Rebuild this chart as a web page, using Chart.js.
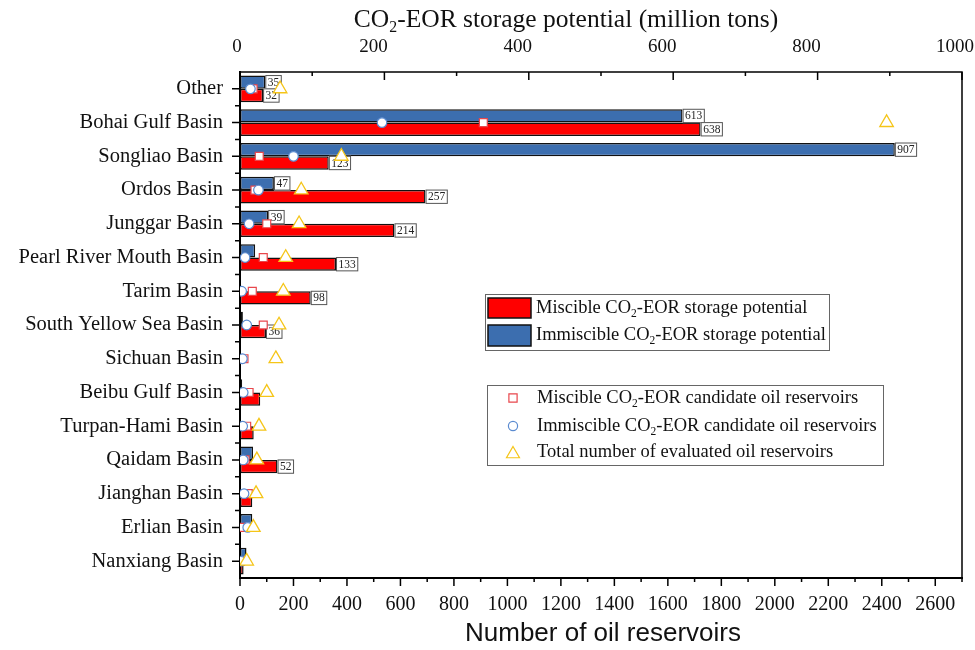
<!DOCTYPE html>
<html>
<head>
<meta charset="utf-8">
<script src="https://cdn.jsdelivr.net/npm/chart.js@4.4.1/dist/chart.umd.min.js"></script>
<style>
  html, body { margin: 0; padding: 0; background: #fff; }
  #wrap { width: 975px; height: 650px; position: relative; }
</style>
</head>
<body>
<div id="wrap"><canvas id="c"></canvas></div>
<script>
// ---- data ----
const categories = ['Other', 'Bohai Gulf Basin', 'Songliao Basin', 'Ordos Basin', 'Junggar Basin',
  'Pearl River Mouth Basin', 'Tarim Basin', 'South Yellow Sea Basin', 'Sichuan Basin', 'Beibu Gulf Basin',
  'Turpan-Hami Basin', 'Qaidam Basin', 'Jianghan Basin', 'Erlian Basin', 'Nanxiang Basin'];

// storage potential, million tons (top axis)
const miscibleStorage   = [32, 638, 123, 257, 214, 133, 98, 36, 1, 28, 19, 52, 17, 1, 5];
const immiscibleStorage = [35, 613, 907, 47, 39, 21, 1, 4, 1, 3, 1, 18, 1, 17, 9];
// value labels shown on bars (null = no label)
const miscibleLabels   = [32, 638, 123, 257, 214, 133, 98, 36, null, null, null, 52, null, null, null];
const immiscibleLabels = [35, 613, 907, 47, 39, null, null, null, null, null, null, null, null, null, null];

// number of oil reservoirs (bottom axis)
const miscibleCount   = [49, 910, 72, 56, 100, 87, 46, 87, 15, 34, 25, 19, 31, 12, 2];
const immiscibleCount = [39, 531, 200, 69, 34, 19, 6, 25, 9, 12, 10, 12, 15, 29, 3];
const totalCount      = [150, 2418, 379, 229, 221, 171, 162, 146, 134, 100, 71, 63, 60, 50, 25];

// tick labels
const topTickLabels = [0, 200, 400, 600, 800, 1000];
const topTicksMax = 1000;
const bottomTicksMax = 2700;

// ---- styles ----
const RED = '#FF0000';
const BLUE = '#3C6EAF';
const SQ = '#E8474C';
const CIR = '#5B8BD0';
const TRI = '#F5C518';
const SERIF = "'Liberation Serif', 'Times New Roman', serif";
const SANS = "'Liberation Sans', Arial, sans-serif";

function richText(ctx, segs, x, y, size, family, align, color) {
  const sub = size * 0.62;
  let w = 0;
  segs.forEach(([t, s]) => { ctx.font = (s ? sub : size) + 'px ' + family; w += ctx.measureText(t).width; });
  let cx = align === 'center' ? x - w / 2 : x;
  ctx.textAlign = 'left';
  ctx.textBaseline = 'middle';
  ctx.fillStyle = color || '#111';
  segs.forEach(([t, s]) => {
    ctx.font = (s ? sub : size) + 'px ' + family;
    ctx.fillText(t, cx, s ? y + size * 0.3 : y);
    cx += ctx.measureText(t).width;
  });
}

function marker(ctx, style, x, y, r, stroke) {
  ctx.save();
  ctx.strokeStyle = stroke; ctx.lineWidth = 1.2; ctx.fillStyle = '#fff';
  ctx.beginPath();
  if (style === 'rect') {
    const s = r * Math.SQRT1_2;
    ctx.rect(x - s, y - s, 2 * s, 2 * s);
  } else if (style === 'circle') {
    ctx.arc(x, y, r, 0, Math.PI * 2);
  } else {
    ctx.moveTo(x, y - r);
    ctx.lineTo(x + r * Math.sin(Math.PI / 3), y + r / 2);
    ctx.lineTo(x - r * Math.sin(Math.PI / 3), y + r / 2);
    ctx.closePath();
  }
  ctx.fill(); ctx.stroke();
  ctx.restore();
}

const decor = {
  id: 'decor',
  afterDatasetDraw(chart, args) {
    if (args.index !== 0) return; // after last bar dataset drawn
    const { ctx, chartArea: ca } = chart;
    // value labels
    ctx.save();
    ctx.font = '11.5px ' + SERIF;
    [[0, immiscibleLabels], [1, miscibleLabels]].forEach(([di, labs]) => {
      const meta = chart.getDatasetMeta(di);
      labs.forEach((v, i) => {
        if (v === null) return;
        const el = meta.data[i];
        const t = String(v);
        const tw = ctx.measureText(t).width;
        const bw = tw + 5, bh = el.height + 1;
        const bx = el.x, by = el.y - bh / 2;
        ctx.fillStyle = '#fff';
        ctx.fillRect(bx, by, bw, bh);
        ctx.strokeStyle = '#555'; ctx.lineWidth = 1;
        ctx.strokeRect(bx + 0.5, by + 0.5, bw - 1, bh - 1);
        ctx.fillStyle = '#222'; ctx.textAlign = 'center'; ctx.textBaseline = 'middle';
        ctx.fillText(t, bx + bw / 2, el.y + 0.5);
      });
    });
    // frame
    ctx.strokeStyle = '#000';
    ctx.lineWidth = 1.5;
    ctx.beginPath();
    ctx.moveTo(ca.left, ca.top); ctx.lineTo(ca.right, ca.top); ctx.lineTo(ca.right, ca.bottom);
    ctx.stroke();
    ctx.lineWidth = 2;
    ctx.beginPath();
    ctx.moveTo(ca.left, ca.top - 1); ctx.lineTo(ca.left, ca.bottom); ctx.lineTo(ca.right + 1, ca.bottom);
    ctx.stroke();
    // ticks
    ctx.lineWidth = 1.5;
    const xt = chart.scales.xTop, xb = chart.scales.xBottom, ys = chart.scales.y;
    ctx.beginPath();
    for (let v = 0; v <= topTicksMax; v += 100) {
      const px = xt.getPixelForValue(v);
      const len = v % 200 === 0 ? 8 : 4;
      ctx.moveTo(px, ca.top); ctx.lineTo(px, ca.top + len);
    }
    for (let v = 0; v <= bottomTicksMax; v += 100) {
      const px = xb.getPixelForValue(v);
      const len = v % 200 === 0 ? 8 : 4;
      ctx.moveTo(px, ca.bottom); ctx.lineTo(px, ca.bottom + len);
    }
    const n = categories.length;
    for (let i = 0; i < n; i++) {
      const py = ys.getPixelForValue(i);
      ctx.moveTo(ca.left, py); ctx.lineTo(ca.left - 8, py);
    }
    const band = (ca.bottom - ca.top) / n;
    for (let i = 1; i < n; i++) {
      const py = ca.top + band * i;
      ctx.moveTo(ca.left, py); ctx.lineTo(ca.left - 5, py);
    }
    ctx.stroke();
    ctx.restore();
  },
  afterDraw(chart) {
    const { ctx, chartArea: ca } = chart;
    const xt = chart.scales.xTop;
    ctx.save();
    // top tick labels (slightly shifted left as in the original figure)
    ctx.font = '19px ' + SERIF;
    ctx.fillStyle = '#111'; ctx.textBaseline = 'middle';
    topTickLabels.forEach((v, i) => {
      const px = xt.getPixelForValue(v);
      if (i === topTickLabels.length - 1) { ctx.textAlign = 'right'; ctx.fillText(String(v), px + 12, 47); }
      else if (i === 0) { ctx.textAlign = 'center'; ctx.fillText(String(v), px - 3, 47); }
      else { ctx.textAlign = 'center'; ctx.fillText(String(v), px - 11, 47); }
    });
    // titles
    richText(ctx, [['CO', 0], ['2', 1], ['-EOR storage potential (million tons)', 0]], 566, 20, 25.5, SERIF, 'center', '#111');
    ctx.font = '26px ' + SANS;
    ctx.fillStyle = '#111'; ctx.textAlign = 'center'; ctx.textBaseline = 'middle';
    ctx.fillText('Number of oil reservoirs', 603, 634);

    // legend 1
    ctx.fillStyle = '#fff';
    ctx.fillRect(485, 294, 344, 56);
    ctx.strokeStyle = '#666'; ctx.lineWidth = 1;
    ctx.strokeRect(485.5, 294.5, 344, 56);
    ctx.lineWidth = 1.5; ctx.strokeStyle = '#111';
    ctx.fillStyle = RED; ctx.fillRect(488, 298, 43, 20); ctx.strokeRect(488, 298, 43, 20);
    ctx.fillStyle = BLUE; ctx.fillRect(488, 325, 43, 21); ctx.strokeRect(488, 325, 43, 21);
    richText(ctx, [['Miscible CO', 0], ['2', 1], ['-EOR storage potential', 0]], 536, 308, 18.5, SERIF, 'left', '#111');
    richText(ctx, [['Immiscible CO', 0], ['2', 1], ['-EOR storage potential', 0]], 536, 335, 18.5, SERIF, 'left', '#111');

    // legend 2
    ctx.fillStyle = '#fff';
    ctx.fillRect(487, 385, 396, 80);
    ctx.strokeStyle = '#666'; ctx.lineWidth = 1;
    ctx.strokeRect(487.5, 385.5, 396, 80);
    marker(ctx, 'rect', 513, 398, 5.8, SQ);
    marker(ctx, 'circle', 513, 426, 4.6, CIR);
    marker(ctx, 'triangle', 513, 454, 7.5, TRI);
    richText(ctx, [['Miscible CO', 0], ['2', 1], ['-EOR candidate oil reservoirs', 0]], 537, 398, 18.5, SERIF, 'left', '#111');
    richText(ctx, [['Immiscible CO', 0], ['2', 1], ['-EOR candidate oil reservoirs', 0]], 537, 426, 18.5, SERIF, 'left', '#111');
    richText(ctx, [['Total number of evaluated oil reservoirs', 0]], 537, 452, 18.5, SERIF, 'left', '#111');
    ctx.restore();
  }
};

const noPad = s => { s.paddingLeft = 0; s.paddingRight = 0; s.paddingTop = 0; s.paddingBottom = 0; };

new Chart(document.getElementById('c'), {
  type: 'bar',
  data: {
    labels: categories,
    datasets: [
      { type: 'bar', label: 'Immiscible CO2-EOR storage potential', data: immiscibleStorage,
        xAxisID: 'xTop', yAxisID: 'y', backgroundColor: BLUE, borderColor: '#111', borderWidth: 1.5,
        borderSkipped: false, barPercentage: 1, categoryPercentage: 0.79, order: 10 },
      { type: 'bar', label: 'Miscible CO2-EOR storage potential', data: miscibleStorage,
        xAxisID: 'xTop', yAxisID: 'y', backgroundColor: RED, borderColor: '#111', borderWidth: 1.5,
        borderSkipped: false, barPercentage: 1, categoryPercentage: 0.79, order: 11 },
      { type: 'line', label: 'Miscible CO2-EOR candidate oil reservoirs', data: miscibleCount,
        xAxisID: 'xBottom', yAxisID: 'y', showLine: false, pointStyle: 'rect', pointRadius: 5.6,
        pointBackgroundColor: '#fff', pointBorderColor: SQ, pointBorderWidth: 1.2, order: 3 },
      { type: 'line', label: 'Immiscible CO2-EOR candidate oil reservoirs', data: immiscibleCount,
        xAxisID: 'xBottom', yAxisID: 'y', showLine: false, pointStyle: 'circle', pointRadius: 4.8,
        pointBackgroundColor: '#fff', pointBorderColor: CIR, pointBorderWidth: 1.2, order: 2 },
      { type: 'line', label: 'Total number of evaluated oil reservoirs', data: totalCount,
        xAxisID: 'xBottom', yAxisID: 'y', showLine: false, pointStyle: 'triangle', pointRadius: 7.8,
        pointBackgroundColor: '#fff', pointBorderColor: TRI, pointBorderWidth: 1.3, order: 1 }
    ]
  },
  options: {
    indexAxis: 'y',
    responsive: true,
    maintainAspectRatio: false,
    animation: false,
    events: [],
    layout: { padding: { left: 0, right: 13, top: 0, bottom: 0 } },
    plugins: { legend: { display: false }, tooltip: { enabled: false }, title: { display: false } },
    scales: {
      y: {
        type: 'category', position: 'left', offset: true,
        grid: { display: false, drawTicks: false }, border: { display: false },
        ticks: { font: { family: SERIF, size: 20.5 }, color: '#111', padding: 17, autoSkip: false },
        afterFit: s => { s.width = 240; noPad(s); }
      },
      xTop: {
        type: 'linear', position: 'top', min: 0, max: topTicksMax,
        grid: { display: false, drawTicks: false }, border: { display: false },
        ticks: { display: false, stepSize: 100 },
        afterFit: s => { s.height = 72; noPad(s); }
      },
      xBottom: {
        type: 'linear', position: 'bottom', min: 0, max: bottomTicksMax,
        grid: { display: false, drawTicks: false }, border: { display: false },
        ticks: { stepSize: 100, autoSkip: false, maxRotation: 0, padding: 15,
          callback: v => (v % 200 === 0 ? v : ''), font: { family: SERIF, size: 20 }, color: '#111' },
        afterFit: s => { s.height = 72; noPad(s); }
      }
    }
  },
  plugins: [decor]
});
</script>
</body>
</html>
